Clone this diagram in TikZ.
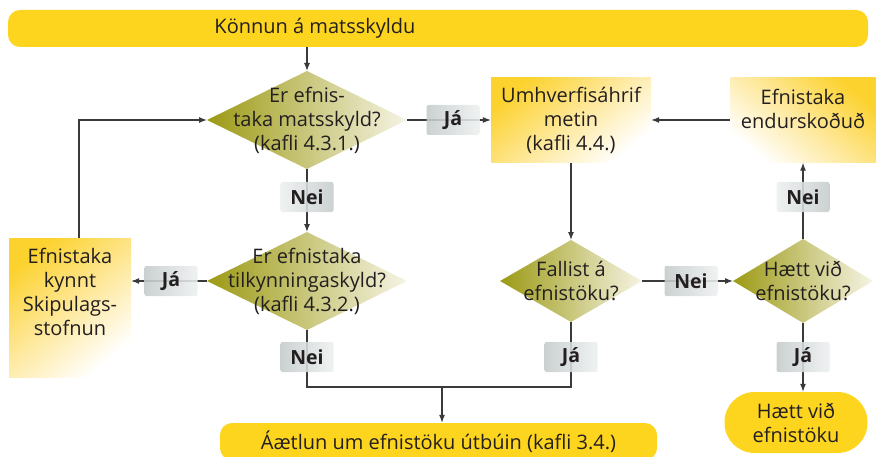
\documentclass[tikz,border=0pt]{standalone}
\usepackage{fontspec}
\setmainfont{Open Sans}
\usetikzlibrary{arrows.meta,calc}
\definecolor{yel}{HTML}{FDD51F}
\definecolor{boxy}{HTML}{FCD22E}
\definecolor{boxm}{HTML}{FEE89A}
\definecolor{diaA}{HTML}{9C9A14}
\definecolor{diaB}{HTML}{F6F4E4}
\definecolor{lgA}{HTML}{C4CBCB}
\definecolor{lgB}{HTML}{EEF0F0}
\definecolor{linec}{HTML}{3A3A3A}
\definecolor{txt}{HTML}{231F20}
\pgfdeclarelayer{bg}
\pgfsetlayers{bg,main}
\newcommand\mydia[6]{%
  \path[left color=diaA, right color=diaB] (#2-#4,#3) -- (#2,#3-#5) -- (#2+#4,#3) -- (#2,#3+#5) -- cycle;
  \node[dtext] (#1) at (#2,#3) {#6};
  \coordinate (#1-l) at (#2-#4,#3);
  \coordinate (#1-r) at (#2+#4,#3);
  \coordinate (#1-t) at (#2,#3-#5);
  \coordinate (#1-b) at (#2,#3+#5);
}
\begin{document}
\begin{tikzpicture}[x=1pt,y=-1pt,
  mainfont/.style={font=\fontsize{20}{24}\selectfont, text=txt},
  dtext/.style={mainfont, align=center, inner sep=0},
  conn/.style={draw=linec, line width=1.1pt},
  arr/.style={conn, -{Latex[length=8pt,width=6pt]}},
  lbl/.style={rounded corners=2pt, left color=lgA, right color=lgB, fill opacity=0.88, text opacity=1,
    font=\bfseries\fontsize{19.5}{21}\selectfont, text=txt, minimum width=53pt, minimum height=30pt, inner sep=0},
  lblr/.style={lbl, left color=lgB, right color=lgA},
  bar/.style={fill=yel, rounded corners=12pt, inner sep=0, mainfont},
  yboxL/.style={top color=boxy, bottom color=white, middle color=boxm, shading angle=40, mainfont, align=center, inner sep=0},
  yboxR/.style={top color=boxy, bottom color=white, middle color=boxm, shading angle=-40, mainfont, align=center, inner sep=0},
]
\useasboundingbox (0,0) rectangle (891,457);

% bars
\node[bar, minimum width=860pt, minimum height=37pt] (top) at (438,28.5) {};
\node[mainfont, inner sep=0] (toptxt) at (315,28) {Könnun á matsskyldu};
\node[bar, minimum width=437pt, minimum height=37pt] (bot) at (438.5,441.5) {Áætlun um efnistöku útbúin (kafli 3.4.)};
\node[bar, rounded corners=30pt, minimum width=143pt, minimum height=61pt, align=center] (haett) at (796,422.5) {Hætt við\\efnistöku};

% boxes
\node[yboxL, minimum width=160pt, minimum height=85pt] (umh) at (571,120) {Umhverfisáhrif\\metin\\(kafli 4.4.)};
\node[yboxR, minimum width=145pt, minimum height=85pt] (endr) at (803,120) {Efnistaka\\endurskoðuð\\[-8pt]\strut};
\node[yboxL, minimum width=122pt, minimum height=139pt] (kynnt) at (70,307.5) {Efnistaka\\kynnt\\Skipulags-\\stofnun\\\strut};

% diamonds
\mydia{d1}{307}{120}{100}{49}{Er efnis-\\taka matsskyld?\\(kafli 4.3.1.)}
\mydia{d2}{307}{281}{100}{49}{Er efnistaka\\tilkynningaskyld?\\(kafli 4.3.2.)}
\mydia{d3}{571}{281}{71}{41}{Fallist á\\efnistöku?}
\mydia{d4}{803}{281}{70}{42}{Hætt við\\efnistöku?}

% labels
\node[lbl] (ja1) at (453,120) {Já};
\node[lblr] (nei1) at (307,197) {Nei};
\node[lbl] (ja2) at (171,281) {Já};
\node[lbl] (nei2) at (307,357) {Nei};
\node[lbl] (ja3) at (571,357) {Já};
\node[lbl] (nei3) at (691,281) {Nei};
\node[lblr] (nei4) at (803,197) {Nei};
\node[lbl] (ja4) at (803,357) {Já};
\coordinate (join) at (442,387);

\begin{pgfonlayer}{bg}
\draw[arr] (d1-t |- top.south) -- (d1-t);
\draw[arr] (d1-r) -- (umh.west);
\draw[arr] (d1-b) -- (d2-t);
\draw[arr] (d2-l) -- (d2-l -| kynnt.east);
\draw[arr] ([xshift=9pt]kynnt.north) |- (d1-l);
\draw[conn] (d2-b) |- (join);
\draw[conn] (d3-b) |- (join);
\draw[arr] (join) -- (join |- bot.north);
\draw[arr] (umh.south) -- (d3-t);
\draw[arr] (d3-r) -- (d4-l);
\draw[arr] (d4-t) -- (endr.south);
\draw[arr] (endr.west) -- (umh.east);
\draw[arr] (d4-b) -- (d4-b |- haett.north);
\end{pgfonlayer}
\end{tikzpicture}
\end{document}
